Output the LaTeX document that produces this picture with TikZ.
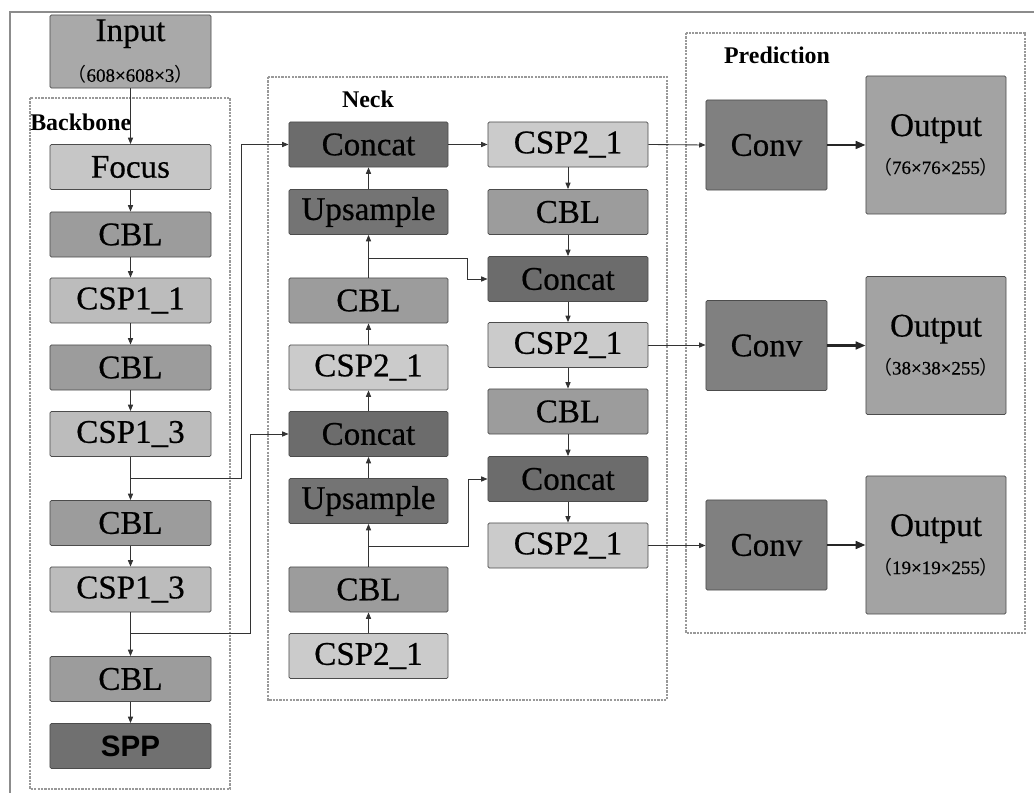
\documentclass[tikz,border=0pt]{standalone}
\usepackage{fontspec}
\setmainfont{Liberation Serif}
\newfontfamily\cjkf{Noto Sans CJK SC}
\newfontfamily\sansf{Liberation Sans}
\newfontface\boxf{Liberation Serif}[FakeBold=0.5]
\usetikzlibrary{arrows.meta}
\definecolor{cIn}{HTML}{A9A9A9}
\definecolor{cFocus}{HTML}{C6C6C6}
\definecolor{cCBL}{HTML}{9C9C9C}
\definecolor{cCSPa}{HTML}{BCBCBC}
\definecolor{cCSPb}{HTML}{CBCBCB}
\definecolor{cSPP}{HTML}{707070}
\definecolor{cCat}{HTML}{6C6C6C}
\definecolor{cUp}{HTML}{747474}
\definecolor{cConv}{HTML}{808080}
\definecolor{cOut}{HTML}{A3A3A3}
\begin{document}
\begin{tikzpicture}[x=0.025cm,y=-0.025cm,
  blk/.style={draw=black!70, line width=0.6pt, rounded corners=1pt,
    minimum width=4cm, minimum height=1.125cm, inner sep=0pt,
    font=\fontsize{23.5}{26}\boxf, text=black},
  bb/.style={blk, minimum width=4.025cm},
  nl/.style={blk, minimum width=3.975cm},
  nr/.style={blk, minimum width=4cm},
  cv/.style={blk, minimum width=3.025cm, minimum height=2.25cm, fill=cConv},
  ot/.style={blk, minimum width=3.5cm, minimum height=3.45cm, fill=cOut, align=center},
  grp/.style={draw=black!40, line width=0.8pt, dash pattern=on 1.6pt off 0.8pt},
  ttl/.style={font=\fontsize{17}{19}\selectfont\bfseries, inner sep=0pt},
  arr/.style={-{Triangle[length=4.5pt,width=3.6pt]}, line width=0.6pt, draw=black!80},
  barr/.style={-{Triangle[length=7pt,width=5.5pt]}, line width=1.5pt, draw=black!85}]
\newcommand\subt[1]{{\fontsize{13.5}{15}\selectfont{\cjkf （}#1{\cjkf ）}}}
\useasboundingbox (0,0) rectangle (1034,793);
% outer frame
\draw[draw=black!45, line width=1.2pt] (10,793) -- (10,12) -- (1034,12);
% group boxes
\draw[grp] (30,98) rectangle (230,789);
\draw[grp] (268,77) rectangle (667,700);
\draw[grp] (686,33) rectangle (1025,633);
\node[ttl, anchor=west] (tb) at (30,122) {Backbone};
\node[ttl] (tn) at (368,99) {Neck};
\node[ttl] (tp) at (777,55) {Prediction};
% backbone
\node[bb, fill=cIn, minimum height=1.825cm, align=center] (b0) at (130.5,51.5)
  {Input\\[3pt]\subt{608×608×3}};
\node[bb, fill=cFocus] (b1) at (130.5,167) {Focus};
\node[bb, fill=cCBL] (b2) at (130.5,234.5) {CBL};
\node[bb, fill=cCSPa] (b3) at (130.5,300.5) {CSP1\_1};
\node[bb, fill=cCBL] (b4) at (130.5,367.5) {CBL};
\node[bb, fill=cCSPa] (b5) at (130.5,434) {CSP1\_3};
\node[bb, fill=cCBL] (b6) at (130.5,523) {CBL};
\node[bb, fill=cCSPa] (b7) at (130.5,589.5) {CSP1\_3};
\node[bb, fill=cCBL] (b8) at (130.5,679) {CBL};
\node[bb, fill=cSPP, font=\fontsize{21}{24}\sansf\bfseries] (b9) at (130.5,746) {SPP};
% neck left
\node[nl, fill=cCat] (n1) at (368.5,144.5) {Concat};
\node[nl, fill=cUp] (n2) at (368.5,212) {Upsample};
\node[nl, fill=cCBL] (n3) at (368.5,300.5) {CBL};
\node[nl, fill=cCSPb] (n4) at (368.5,367.5) {CSP2\_1};
\node[nl, fill=cCat] (n5) at (368.5,434) {Concat};
\node[nl, fill=cUp] (n6) at (368.5,501) {Upsample};
\node[nl, fill=cCBL] (n7) at (368.5,589.5) {CBL};
\node[nl, fill=cCSPb] (n8) at (368.5,656) {CSP2\_1};
% neck right
\node[nr, fill=cCSPb] (r1) at (568,144.5) {CSP2\_1};
\node[nr, fill=cCBL] (r2) at (568,212) {CBL};
\node[nr, fill=cCat] (r3) at (568,279) {Concat};
\node[nr, fill=cCSPb] (r4) at (568,345) {CSP2\_1};
\node[nr, fill=cCBL] (r5) at (568,411.5) {CBL};
\node[nr, fill=cCat] (r6) at (568,479) {Concat};
\node[nr, fill=cCSPb] (r7) at (568,545.5) {CSP2\_1};
% prediction
\node[cv] (c1) at (766.5,145) {Conv};
\node[cv] (c2) at (766.5,345.5) {Conv};
\node[cv] (c3) at (766.5,545) {Conv};
\node[ot] (o1) at (936,145) {Output\\[1pt]\subt{76×76×255}};
\node[ot] (o2) at (936,345.5) {Output\\[1pt]\subt{38×38×255}};
\node[ot] (o3) at (936,545) {Output\\[1pt]\subt{19×19×255}};
% backbone arrows
\foreach \a/\b in {b0/b1,b1/b2,b2/b3,b3/b4,b4/b5,b5/b6,b6/b7,b7/b8,b8/b9}
  \draw[arr] (\a) -- (\b);
% neck arrows
\foreach \a/\b in {n8/n7,n7/n6,n6/n5,n5/n4,n4/n3,n3/n2,n2/n1}
  \draw[arr] (\a) -- (\b);
\foreach \a/\b in {r1/r2,r2/r3,r3/r4,r4/r5,r5/r6,r6/r7}
  \draw[arr] (\a) -- (\b);
\draw[arr] (n1) -- (r1);
% branches
\coordinate (j1) at (b5.south |- 0,478);
\coordinate (k1) at (241,478);
\draw[arr] (j1) -- (k1) |- (n1.west);
\coordinate (j2) at (b7.south |- 0,633);
\coordinate (k2) at (250,633);
\draw[arr] (j2) -- (k2) |- (n5.west);
\coordinate (j3) at (n7.north |- 0,546);
\coordinate (k3) at (468,546);
\draw[arr] (j3) -- (k3) |- (r6.west);
\coordinate (j4) at (n3.north |- 0,258);
\coordinate (k4) at (467,258);
\draw[arr] (j4) -- (k4) |- (r3.west);
% to prediction
\draw[arr] (r1.east) -- (c1.west);
\draw[arr] (r4.east) -- (c2.west |- r4.east);
\draw[arr] (r7.east) -- (c3.west |- r7.east);
\draw[barr] (c1) -- (o1);
\draw[barr] (c2) -- (o2);
\draw[barr] (c3) -- (o3);
\end{tikzpicture}
\end{document}
